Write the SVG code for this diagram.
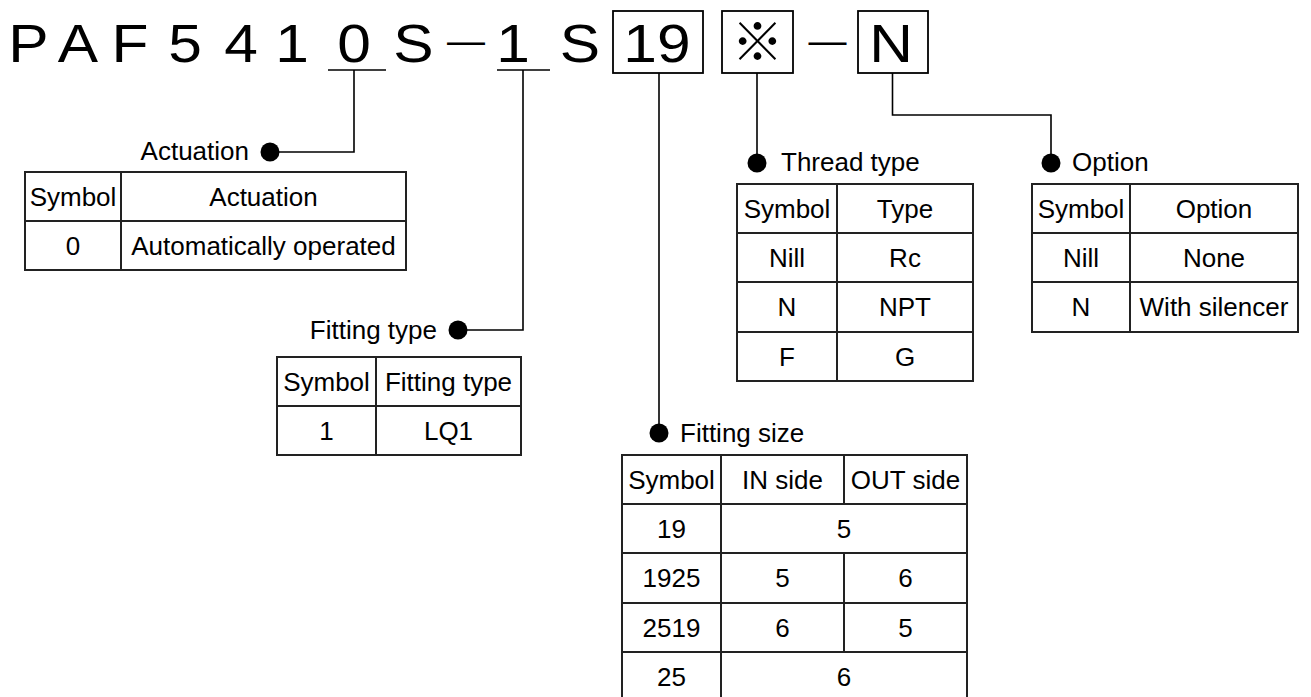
<svg xmlns="http://www.w3.org/2000/svg" width="1311" height="697" viewBox="0 0 1311 697">
<style>
.big{font-family:"Liberation Sans",Arial,sans-serif;font-size:54px;fill:#000;text-anchor:middle}
.mark{font-family:"Noto Sans CJK JP","Liberation Sans",sans-serif;font-size:52px;fill:#000;text-anchor:middle}
.t{font-family:"Liberation Sans",Arial,sans-serif;font-size:26px;fill:#000;text-anchor:middle}
.lbl{font-family:"Liberation Sans",Arial,sans-serif;font-size:26px;fill:#000}
.box{fill:none;stroke:#000;stroke-width:1.8}
.grid{fill:none;stroke:#222;stroke-width:2}
.con{fill:none;stroke:#000;stroke-width:1.6}
</style>
<rect width="1311" height="697" fill="#fff"/>
<g id="code">
<text class="big" transform="translate(28.5,62) scale(1.12,1)">P</text>
<text class="big" transform="translate(78,62) scale(1.12,1)">A</text>
<text class="big" transform="translate(130,62) scale(1.12,1)">F</text>
<text class="big" transform="translate(185,62) scale(1.12,1)">5</text>
<text class="big" transform="translate(241,62) scale(1.12,1)">4</text>
<text class="big" transform="translate(292,62) scale(1.12,1)">1</text>
<text class="big" transform="translate(354,62) scale(1.12,1)">0</text>
<text class="big" transform="translate(413.5,62) scale(1.12,1)">S</text>
<text class="big" style="font-size:38px" transform="translate(466,54)">—</text>
<text class="big" transform="translate(513,62) scale(1.12,1)">1</text>
<text class="big" transform="translate(580,62) scale(1.12,1)">S</text>
<rect class="box" x="613" y="11" width="90" height="62"/>
<text class="big" transform="translate(657,62) scale(1.12,1)">19</text>
<rect class="box" x="722" y="11" width="71" height="62"/>
<text class="mark" x="757.5" y="61">※</text>
<text class="big" style="font-size:38px" transform="translate(827.5,54)">—</text>
<rect class="box" x="858" y="11" width="70" height="62"/>
<text class="big" transform="translate(891,62) scale(1.12,1)">N</text>
</g>
<g id="connectors">
<path class="con" d="M328 70H386M354 70V152H270"/>
<path class="con" d="M497 70H550M523 70V330H458"/>
<path class="con" d="M659 73V433"/>
<path class="con" d="M757 73V163"/>
<path class="con" d="M892.5 73V115H1051V163"/>
<circle cx="270" cy="152" r="9.5"/>
<circle cx="458" cy="330" r="9.5"/>
<circle cx="659" cy="433" r="9.5"/>
<circle cx="757" cy="163" r="9.5"/>
<circle cx="1051" cy="163" r="9.5"/>
</g>
<g id="actuation">
<text class="lbl" x="249" y="160" text-anchor="end">Actuation</text>
<rect class="grid" x="25" y="172" width="381" height="98"/>
<path class="grid" d="M25 221H406M121 172V270"/>
<text class="t" x="73" y="206">Symbol</text>
<text class="t" x="263.5" y="206">Actuation</text>
<text class="t" x="73" y="255">0</text>
<text class="t" x="263.5" y="255">Automatically operated</text>
</g>
<g id="fitting-type">
<text class="lbl" x="437" y="339" text-anchor="end">Fitting type</text>
<rect class="grid" x="277" y="357" width="244" height="98"/>
<path class="grid" d="M277 406H521M376 357V455"/>
<text class="t" x="326.5" y="391">Symbol</text>
<text class="t" x="448.5" y="391">Fitting type</text>
<text class="t" x="326.5" y="440">1</text>
<text class="t" x="448.5" y="440">LQ1</text>
</g>
<g id="thread-type">
<text class="lbl" x="781" y="171">Thread type</text>
<rect class="grid" x="737" y="184" width="236" height="197"/>
<path class="grid" d="M737 233H973M737 282H973M737 332H973M837 184V381"/>
<text class="t" x="787" y="217.5">Symbol</text>
<text class="t" x="905" y="217.5">Type</text>
<text class="t" x="787" y="266.5">Nill</text>
<text class="t" x="905" y="266.5">Rc</text>
<text class="t" x="787" y="316">N</text>
<text class="t" x="905" y="316">NPT</text>
<text class="t" x="787" y="365.5">F</text>
<text class="t" x="905" y="365.5">G</text>
</g>
<g id="option">
<text class="lbl" x="1072" y="171">Option</text>
<rect class="grid" x="1032" y="184" width="266" height="148"/>
<path class="grid" d="M1032 233H1298M1032 282H1298M1130 184V332"/>
<text class="t" x="1081" y="217.5">Symbol</text>
<text class="t" x="1214" y="217.5">Option</text>
<text class="t" x="1081" y="266.5">Nill</text>
<text class="t" x="1214" y="266.5">None</text>
<text class="t" x="1081" y="316">N</text>
<text class="t" x="1214" y="316">With silencer</text>
</g>
<g id="fitting-size">
<text class="lbl" x="680" y="442">Fitting size</text>
<rect class="grid" x="622" y="455" width="345" height="246"/>
<path class="grid" d="M622 504H967M622 553H967M622 603H967M622 652H967M721 455V701M844 455V504M844 553V652"/>
<text class="t" x="671.5" y="488.5">Symbol</text>
<text class="t" x="782.5" y="488.5">IN side</text>
<text class="t" x="905.5" y="488.5">OUT side</text>
<text class="t" x="671.5" y="537.5">19</text>
<text class="t" x="844" y="537.5">5</text>
<text class="t" x="671.5" y="587">1925</text>
<text class="t" x="782.5" y="587">5</text>
<text class="t" x="905.5" y="587">6</text>
<text class="t" x="671.5" y="636.5">2519</text>
<text class="t" x="782.5" y="636.5">6</text>
<text class="t" x="905.5" y="636.5">5</text>
<text class="t" x="671.5" y="685.5">25</text>
<text class="t" x="844" y="685.5">6</text>
</g>
</svg>
